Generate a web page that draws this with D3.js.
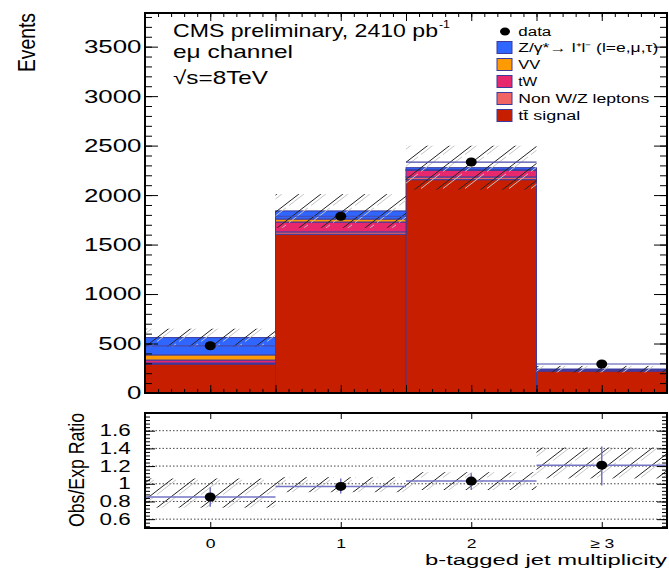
<!DOCTYPE html>
<html>
<head>
<meta charset="utf-8">
<script src="https://cdn.jsdelivr.net/npm/d3@7"></script>
<style>
  body { margin: 0; background: #fff; }
  text { font-family: "Liberation Sans", Arial, Helvetica, sans-serif; fill: #000; }
</style>
</head>
<body>
<svg id="chart" width="669" height="571"></svg>
<script>
// b-tag multiplicity bins
const bins = ["0", "1", "2", "\u2265 3"];

// stacked expectation per bin (events)
const ttbar = [293, 1604, 2156, 222];
const nonWZ = [10, 24, 27, 4];
const tW    = [30, 100, 67, 12];
const vv    = [52, 30, 6, 1];
const dy    = [175, 82, 21, 2];

// observed events and the total expectation uncertainty
const dataCounts = [477, 1786, 2334, 293];
const mcErr = [90, 170, 222, 33];

// observed / expected ratio panel
const ratio   = [0.85, 0.97, 1.03, 1.21];
const ratioLo = [0.74, 0.89, 0.93, 0.98];
const ratioHi = [0.96, 1.06, 1.12, 1.42];
const bandLo  = [0.73, 0.905, 0.93, 1.06];
const bandHi  = [1.06, 1.075, 1.13, 1.41];

// tick values
const yTicks = [0, 500, 1000, 1500, 2000, 2500, 3000, 3500];
const rTicks = [0.6, 0.8, 1, 1.2, 1.4, 1.6];

const keys = ["ttbar", "nonWZ", "tW", "vv", "dy"];
const colors = { ttbar: "#c81e00", nonWZ: "#f06464", tW: "#e8286c", vv: "#ff9a00", dy: "#2f66ff" };
const edge = "#3b3b9e";

const svg = d3.select("#chart");

// hatch used for the uncertainty bands
const defs = svg.append("defs");
const pat = defs.append("pattern").attr("id", "hatch")
  .attr("patternUnits", "userSpaceOnUse").attr("width", 22).attr("height", 17);
const k = 17 / 22;
[0, 17, 34].forEach(c => {
  pat.append("line").attr("x1", -2 + 5).attr("y1", c - k * (-2)).attr("x2", 24 + 5).attr("y2", c - k * 24)
    .attr("stroke", "#c4c4c4").attr("stroke-width", 1);
});
[0, 17, 34].forEach(c => {
  pat.append("line").attr("x1", -2).attr("y1", c - k * (-2)).attr("x2", 24).attr("y2", c - k * 24)
    .attr("stroke", "#222").attr("stroke-width", 1);
});

// scales
const x  = d3.scaleLinear().domain([-0.5, 3.5]).range([145, 667]);
const y  = d3.scaleLinear().domain([0, 3840]).range([393, 13]);
const yr = d3.scaleLinear().domain([0.5, 1.8]).range([528, 413]);

defs.append("clipPath").attr("id", "clipMain").append("rect")
  .attr("x", x(-0.5)).attr("y", y(3840)).attr("width", x(3.5) - x(-0.5)).attr("height", y(0) - y(3840));
defs.append("clipPath").attr("id", "clipRatio").append("rect")
  .attr("x", x(-0.5)).attr("y", yr(1.8)).attr("width", x(3.5) - x(-0.5)).attr("height", yr(0.5) - yr(1.8));

// ---------- main panel ----------
const rows = bins.map((b, i) => ({ i, ttbar: ttbar[i], nonWZ: nonWZ[i], tW: tW[i], vv: vv[i], dy: dy[i] }));
const series = d3.stack().keys(keys)(rows);
const totals = rows.map(r => keys.reduce((s, kk) => s + r[kk], 0));
const bw = x(1) - x(0);

const main = svg.append("g").attr("clip-path", "url(#clipMain)");
series.forEach(s => {
  main.append("g").selectAll("rect").data(s).join("rect")
    .attr("x", d => x(d.data.i - 0.5))
    .attr("width", bw)
    .attr("y", d => y(d[1]))
    .attr("height", d => y(d[0]) - y(d[1]))
    .attr("fill", colors[s.key])
    .attr("stroke", edge).attr("stroke-width", 1);
});

// uncertainty band on the total expectation
main.append("g").selectAll("rect").data(totals).join("rect")
  .attr("x", (d, i) => x(i - 0.5)).attr("width", bw)
  .attr("y", (d, i) => y(d + mcErr[i]))
  .attr("height", (d, i) => y(d - mcErr[i]) - y(d + mcErr[i]))
  .attr("fill", "url(#hatch)");

// data: bin-width bars and markers
main.append("g").selectAll("line").data(dataCounts).join("line")
  .attr("x1", (d, i) => x(i - 0.5)).attr("x2", (d, i) => x(i + 0.5))
  .attr("y1", d => y(d)).attr("y2", d => y(d))
  .attr("stroke", "#4a4aaa").attr("stroke-width", 1.2);
main.append("g").selectAll("ellipse").data(dataCounts).join("ellipse")
  .attr("cx", (d, i) => x(i)).attr("cy", d => y(d))
  .attr("rx", 5.5).attr("ry", 4.5).attr("fill", "#000");

// main axes (ticks inward, ROOT style)
function stripDomain(g) { g.select(".domain").remove(); g.selectAll("line").attr("stroke", "#000"); }

svg.append("g").attr("transform", `translate(${x(-0.5)},0)`)
  .call(d3.axisLeft(y).tickValues(d3.range(0, 3801, 100)).tickSize(-7).tickFormat(""))
  .call(stripDomain);
const yAx = svg.append("g").attr("transform", `translate(${x(-0.5)},0)`)
  .call(d3.axisLeft(y).tickValues(yTicks).tickSize(-13).tickPadding(0).tickFormat(d3.format("d")))
  .call(stripDomain);
yAx.selectAll("text").attr("x", 0).attr("font-size", 18.5)
  .attr("transform", "translate(-3.5,0) scale(1.4,1)");

svg.append("g").attr("transform", `translate(${x(3.5)},0)`)
  .call(d3.axisRight(y).tickValues(d3.range(0, 3801, 100)).tickSize(-7).tickFormat(""))
  .call(stripDomain);
svg.append("g").attr("transform", `translate(${x(3.5)},0)`)
  .call(d3.axisRight(y).tickValues(yTicks).tickSize(-13).tickFormat(""))
  .call(stripDomain);

const xMinor = d3.range(-5, 36).map(v => v / 10);
const xMajor = d3.range(-1, 8).map(v => v / 2);
svg.append("g").attr("transform", `translate(0,${y(0)})`)
  .call(d3.axisBottom(x).tickValues(xMinor).tickSize(-4).tickFormat(""))
  .call(stripDomain);
svg.append("g").attr("transform", `translate(0,${y(0)})`)
  .call(d3.axisBottom(x).tickValues(xMajor).tickSize(-8).tickFormat(""))
  .call(stripDomain);
svg.append("g").attr("transform", `translate(0,${y(3840)})`)
  .call(d3.axisTop(x).tickValues(xMinor).tickSize(-4).tickFormat(""))
  .call(stripDomain);
svg.append("g").attr("transform", `translate(0,${y(3840)})`)
  .call(d3.axisTop(x).tickValues(xMajor).tickSize(-8).tickFormat(""))
  .call(stripDomain);

svg.append("rect").attr("x", x(-0.5)).attr("y", y(3840))
  .attr("width", x(3.5) - x(-0.5)).attr("height", y(0) - y(3840))
  .attr("fill", "none").attr("stroke", "#000").attr("stroke-width", 2);

// ---------- ratio panel ----------
const rp = svg.append("g").attr("clip-path", "url(#clipRatio)");
rp.append("g").selectAll("line").data(rTicks).join("line")
  .attr("x1", x(-0.5)).attr("x2", x(3.5))
  .attr("y1", d => yr(d)).attr("y2", d => yr(d))
  .attr("stroke", "#444").attr("stroke-width", 1).attr("stroke-dasharray", "1.5,2");

rp.append("g").selectAll("rect").data(bandLo).join("rect")
  .attr("x", (d, i) => x(i - 0.5)).attr("width", bw)
  .attr("y", (d, i) => yr(bandHi[i]))
  .attr("height", (d, i) => yr(d) - yr(bandHi[i]))
  .attr("fill", "url(#hatch)");

rp.append("g").selectAll("line").data(ratio).join("line")
  .attr("x1", (d, i) => x(i - 0.5)).attr("x2", (d, i) => x(i + 0.5))
  .attr("y1", d => yr(d)).attr("y2", d => yr(d))
  .attr("stroke", "#7474c4").attr("stroke-width", 1.5);
rp.append("g").selectAll("line").data(ratio).join("line")
  .attr("x1", (d, i) => x(i)).attr("x2", (d, i) => x(i))
  .attr("y1", (d, i) => yr(ratioLo[i])).attr("y2", (d, i) => yr(ratioHi[i]))
  .attr("stroke", "#7474c4").attr("stroke-width", 1.5);
rp.append("g").selectAll("ellipse").data(ratio).join("ellipse")
  .attr("cx", (d, i) => x(i)).attr("cy", d => yr(d))
  .attr("rx", 5.5).attr("ry", 4.5).attr("fill", "#000");

const rMinor = d3.range(13, 46).map(v => +(v * 0.04).toFixed(2));
svg.append("g").attr("transform", `translate(${x(-0.5)},0)`)
  .call(d3.axisLeft(yr).tickValues(rMinor).tickSize(-5).tickFormat(""))
  .call(stripDomain);
const rAx = svg.append("g").attr("transform", `translate(${x(-0.5)},0)`)
  .call(d3.axisLeft(yr).tickValues(rTicks).tickSize(-10).tickPadding(0).tickFormat(d3.format("~g")))
  .call(stripDomain);
rAx.selectAll("text").attr("x", 0).attr("font-size", 16)
  .attr("transform", "translate(-14.3,0) scale(1.4,1)");
svg.append("g").attr("transform", `translate(${x(3.5)},0)`)
  .call(d3.axisRight(yr).tickValues(rMinor).tickSize(-5).tickFormat(""))
  .call(stripDomain);
svg.append("g").attr("transform", `translate(${x(3.5)},0)`)
  .call(d3.axisRight(yr).tickValues(rTicks).tickSize(-10).tickFormat(""))
  .call(stripDomain);

svg.append("g").attr("transform", `translate(0,${yr(1.8)})`)
  .call(d3.axisTop(x).tickValues([0, 1, 2, 3]).tickSize(-6).tickFormat(""))
  .call(stripDomain);
const xAx = svg.append("g").attr("transform", `translate(0,${yr(0.5)})`)
  .call(d3.axisBottom(x).tickValues([0, 1, 2, 3]).tickSize(-6).tickPadding(0).tickFormat(i => bins[i]))
  .call(stripDomain);
xAx.selectAll("text").attr("y", 0).attr("dy", null).attr("font-size", 13)
  .attr("transform", "translate(0,19.5) scale(1.35,1)");

svg.append("rect").attr("x", x(-0.5)).attr("y", yr(1.8))
  .attr("width", x(3.5) - x(-0.5)).attr("height", yr(0.5) - yr(1.8))
  .attr("fill", "none").attr("stroke", "#000").attr("stroke-width", 2);

// ---------- titles ----------
function label(txt, px, py, size, len, anchor) {
  return svg.append("text").attr("x", px).attr("y", py).attr("font-size", size)
    .attr("text-anchor", anchor || "start")
    .attr("textLength", len).attr("lengthAdjust", "spacingAndGlyphs").text(txt);
}

svg.append("text").attr("font-size", 19).attr("text-anchor", "end")
  .attr("textLength", 59).attr("lengthAdjust", "spacingAndGlyphs")
  .attr("transform", "translate(35,13) rotate(-90) scale(1,1.3)").text("Events");
svg.append("text").attr("font-size", 17.5).attr("text-anchor", "middle")
  .attr("textLength", 114).attr("lengthAdjust", "spacingAndGlyphs")
  .attr("transform", "translate(84,470) rotate(-90) scale(1,1.3)").text("Obs/Exp Ratio");

label("b-tagged jet multiplicity", 667, 565, 15.5, 242, "end");

label("CMS preliminary, 2410 pb", 173, 36.7, 18.5, 265);
label("-1", 439, 28, 11, 11);
label("e\u03bc channel", 173, 58.3, 18.5, 120);
label("\u221as=8TeV", 173, 84, 18.5, 95);

// ---------- legend ----------
const legItems = [
  { key: "dy",    text: "Z/\u03b3*\u2192 l\u207al\u207b (l=e,\u03bc,\u03c4)", len: 140 },
  { key: "vv",    text: "VV", len: 22 },
  { key: "tW",    text: "tW", len: 19 },
  { key: "nonWZ", text: "Non W/Z leptons", len: 131 },
  { key: "ttbar", text: "tt\u0304 signal", len: 62 }
];
const legY = [47.5, 64.5, 81.5, 98.5, 115.5];
svg.append("ellipse").attr("cx", 505).attr("cy", 31.5).attr("rx", 5).attr("ry", 4).attr("fill", "#000");
label("data", 518.3, 36.2, 12, 33);
legItems.forEach((it, j) => {
  svg.append("rect").attr("x", 497).attr("y", legY[j] - 6).attr("width", 15).attr("height", 12)
    .attr("fill", colors[it.key]).attr("stroke", edge).attr("stroke-width", 1);
  label(it.text, 518.3, legY[j] + 4.5, 12, it.len);
});
</script>
</body>
</html>
